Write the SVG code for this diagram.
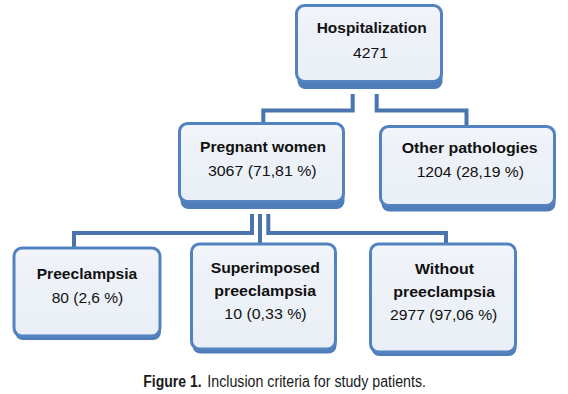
<svg xmlns="http://www.w3.org/2000/svg" width="568" height="394" viewBox="0 0 568 394">
<defs>
<linearGradient id="fillg" x1="0" y1="0" x2="0" y2="1">
<stop offset="0" stop-color="#f3f6fb"/>
<stop offset="0.25" stop-color="#eef2f8"/>
<stop offset="1" stop-color="#eaeff7"/>
</linearGradient>
</defs>
<style>
.shadow{fill:#4f7db9}
.box{fill:url(#fillg);stroke:#5283c0;stroke-width:3}
.conn path{fill:none;stroke:#4a74ad;stroke-width:4;stroke-linejoin:miter}
text{font-family:"Liberation Sans",Arial,sans-serif;font-size:15.5px;fill:#111;text-anchor:middle}
.b{font-weight:bold}
.cap{font-family:"Liberation Sans Narrow","Liberation Sans",Arial,sans-serif;font-size:16px;text-anchor:start;fill:#1a1a1a}
</style>
<rect width="568" height="394" fill="#ffffff"/>
<g id="connectors" class="conn">
<path d="M352.7 94 V110.5 H263.3 V123"/>
<path d="M376.7 94 V110.5 H466.5 V126"/>
<path d="M252 214 V233 H74 V248"/>
<path d="M260 214 V249"/>
<path d="M268.3 214 V233 H446 V244"/>
</g>
<g id="hospitalization">
<rect class="shadow" x="297.5" y="11" width="145" height="78" rx="8"/>
<rect class="box" x="296.5" y="5.5" width="145" height="76" rx="8"/>
<text class="b" x="371.7" y="33.3" textLength="110" lengthAdjust="spacingAndGlyphs">Hospitalization</text>
<text x="370.5" y="58.3" textLength="35" lengthAdjust="spacingAndGlyphs">4271</text>
</g>
<g id="pregnant">
<rect class="shadow" x="180.5" y="129" width="164" height="80" rx="8"/>
<rect class="box" x="179.5" y="123.5" width="164" height="78" rx="8"/>
<text class="b" x="263" y="151.7" textLength="126" lengthAdjust="spacingAndGlyphs">Pregnant women</text>
<text x="262.3" y="176" textLength="108.7" lengthAdjust="spacingAndGlyphs">3067 (71,81 %)</text>
</g>
<g id="other">
<rect class="shadow" x="381.5" y="132" width="174" height="79.5" rx="8"/>
<rect class="box" x="380.5" y="126.5" width="174" height="79" rx="8"/>
<text class="b" x="469.7" y="153.3" textLength="136" lengthAdjust="spacingAndGlyphs">Other pathologies</text>
<text x="470.3" y="177.3" textLength="107.3" lengthAdjust="spacingAndGlyphs">1204 (28,19 %)</text>
</g>
<g id="preeclampsia">
<rect class="shadow" x="15" y="253" width="146" height="87" rx="8"/>
<rect class="box" x="14" y="248" width="146" height="88" rx="8"/>
<text class="b" x="87" y="279" textLength="100.6" lengthAdjust="spacingAndGlyphs">Preeclampsia</text>
<text x="87.5" y="302.7" textLength="71.6" lengthAdjust="spacingAndGlyphs">80 (2,6 %)</text>
</g>
<g id="superimposed">
<rect class="shadow" x="192.5" y="249" width="144" height="104.5" rx="8"/>
<rect class="box" x="191.5" y="244" width="144" height="105" rx="8"/>
<text class="b" x="265.3" y="273.3" textLength="109.3" lengthAdjust="spacingAndGlyphs">Superimposed</text>
<text class="b" x="265.2" y="296" textLength="101.7" lengthAdjust="spacingAndGlyphs">preeclampsia</text>
<text x="265.5" y="319" textLength="82.4" lengthAdjust="spacingAndGlyphs">10 (0,33 %)</text>
</g>
<g id="without">
<rect class="shadow" x="371.5" y="249" width="145" height="107" rx="8"/>
<rect class="box" x="370.5" y="244" width="145" height="108" rx="8"/>
<text class="b" x="444.5" y="274" textLength="59" lengthAdjust="spacingAndGlyphs">Without</text>
<text class="b" x="444.2" y="296.7" textLength="101.7" lengthAdjust="spacingAndGlyphs">preeclampsia</text>
<text x="443.7" y="320" textLength="107.3" lengthAdjust="spacingAndGlyphs">2977 (97,06 %)</text>
</g>
<g id="caption">
<text class="cap b" x="143.3" y="387" textLength="58.4" lengthAdjust="spacingAndGlyphs">Figure 1.</text>
<text class="cap" x="207.3" y="387" textLength="218.7" lengthAdjust="spacingAndGlyphs">Inclusion criteria for study patients.</text>
</g>
</svg>
